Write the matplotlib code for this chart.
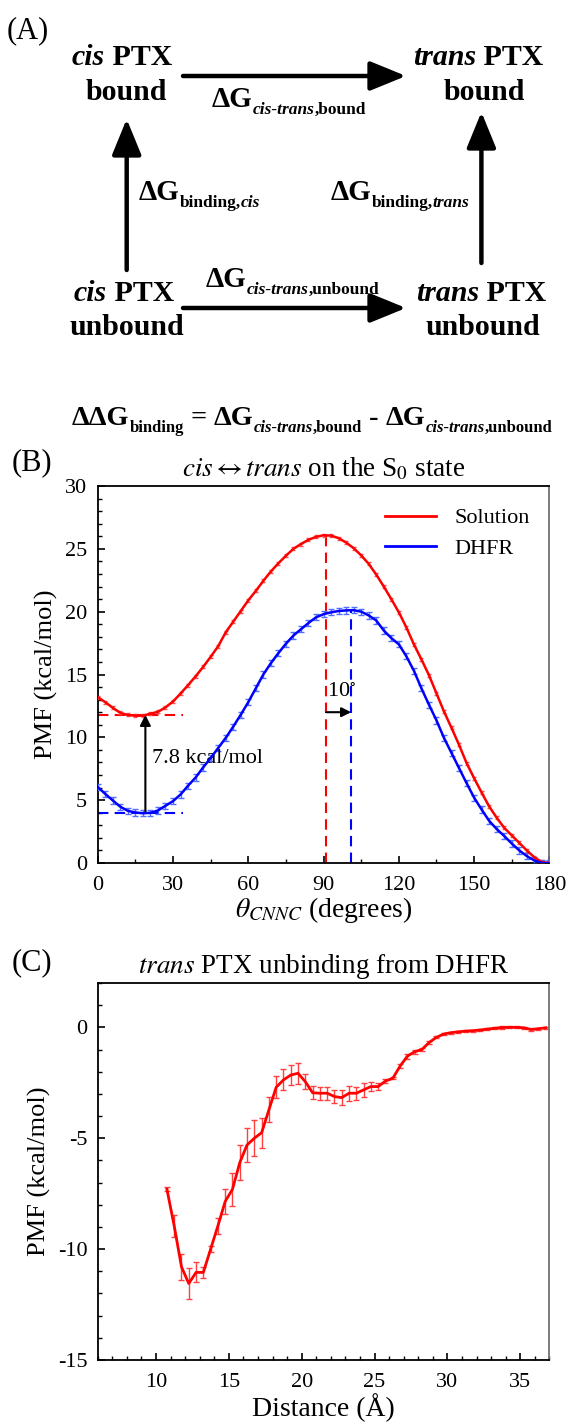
import numpy as np
import matplotlib
matplotlib.use("Agg")
import matplotlib.pyplot as plt
from matplotlib.ticker import MultipleLocator
from matplotlib.lines import Line2D

plt.rcParams['font.family'] = ['Liberation Serif', 'DejaVu Serif']
plt.rcParams['mathtext.fontset'] = 'stix'
plt.rcParams['axes.unicode_minus'] = False

# ---- panel B: cis <-> trans PMF on S0 ----
theta = np.arange(0, 181, 3)
pmf_solution = [13.2, 12.8, 12.35, 11.95, 11.78, 11.72, 11.72, 11.88, 12.03, 12.38,
                12.85, 13.48, 14.15, 14.85, 15.6, 16.4, 17.25, 18.35, 19.2, 20.05,
                20.9, 21.65, 22.45, 23.2, 23.85, 24.45, 25.0, 25.38, 25.72, 25.95,
                26.08, 26.05, 25.85, 25.5, 25.05, 24.48, 23.8, 22.95, 22.0, 21.0,
                19.95, 18.75, 17.4, 16.2, 14.95, 13.5, 12.05, 10.75, 9.4, 7.95,
                6.75, 5.6, 4.5, 3.6, 2.8, 2.2, 1.6, 1.0, 0.45, 0.08, 0.0]
pmf_dhfr = [6.05, 5.5, 4.98, 4.48, 4.15, 4.02, 3.96, 3.99, 4.18, 4.55,
            4.92, 5.45, 6.15, 6.8, 7.6, 8.35, 9.15, 9.95, 10.85, 11.8,
            12.8, 13.9, 15.0, 15.9, 16.7, 17.45, 18.1, 18.6, 19.1, 19.55,
            19.8, 19.95, 20.05, 20.1, 20.12, 20.0, 19.7, 19.3, 18.5, 17.9,
            17.4, 16.45, 15.3, 13.9, 12.6, 11.35, 9.95, 8.75, 7.55, 6.35,
            5.2, 4.25, 3.35, 2.7, 2.15, 1.55, 1.0, 0.55, 0.2, 0.0, 0.0]
err_solution = 0.12
err_dhfr = 0.25
ts_solution = 91      # barrier position, degrees
ts_dhfr = 101
min_solution = 11.8
min_dhfr = 4.0
min_theta = 19
guide_end = 34

# ---- panel C: trans PTX unbinding ----
dist = np.arange(10.75, 37.0, 0.5)
pmf_unbind = [-7.30, -8.95, -10.80, -11.55, -11.05, -11.05, -10.00, -8.95, -7.85, -7.30,
              -6.10, -5.30, -5.00, -4.75, -3.72, -2.70, -2.37, -2.15, -2.07, -2.45,
              -2.95, -2.97, -2.97, -3.12, -3.17, -2.97, -2.97, -2.82, -2.67, -2.67,
              -2.42, -2.30, -1.75, -1.30, -1.10, -1.00, -0.68, -0.45, -0.30, -0.24,
              -0.20, -0.17, -0.15, -0.12, -0.08, -0.04, -0.01, 0.00, 0.00, -0.02,
              -0.10, -0.06, -0.02]
err_unbind = [0.10, 0.50, 0.60, 0.70, 0.45, 0.25, 0.15, 0.35, 0.55, 0.75,
              0.80, 0.75, 0.80, 0.68, 0.56, 0.50, 0.47, 0.44, 0.47, 0.35,
              0.30, 0.30, 0.30, 0.30, 0.33, 0.33, 0.30, 0.30, 0.20, 0.15,
              0.10, 0.05, 0.10, 0.12, 0.10, 0.08, 0.08, 0.05, 0.05, 0.05,
              0.05, 0.05, 0.05, 0.05, 0.05, 0.05, 0.05, 0.05, 0.05, 0.05,
              0.05, 0.05, 0.05]

W, H = 568, 1424
fig = plt.figure(figsize=(W / 100, H / 100), dpi=100)
renderer = fig.canvas.get_renderer()

# ---- (A) thermodynamic cycle, drawn in pixel coordinates ----
axa = fig.add_axes([0, 0, 1, 1])
axa.set_xlim(0, W)
axa.set_ylim(H, 0)
axa.axis('off')

def rich(x, y, pieces, ha='left'):
    # pieces: (text, size, style, drop below baseline in px)
    texts = []
    cx = x
    for s, size, style, dy in pieces:
        t = axa.text(cx, y + dy, s, fontsize=size, fontweight='bold', fontstyle=style,
                     ha='left', va='baseline')
        cx += t.get_window_extent(renderer).width
        texts.append(t)
    if ha == 'center':
        shift = (cx - x) / 2
        for t in texts:
            t.set_x(t.get_position()[0] - shift)

big = 21.5
drop = 7

def dg(kind, tail, dgsize=21, sub=12.5):
    if kind == 'ct':
        return [("ΔG", dgsize, 'normal', 0), ("cis-trans", sub, 'italic', drop),
                ("," + tail, sub, 'normal', drop)]
    return [("ΔG", dgsize, 'normal', 0), ("binding,", sub, 'normal', drop),
            (tail, sub, 'italic', drop)]

rich(122, 65, [("cis", big, 'italic', 0), (" PTX", big, 'normal', 0)], ha='center')
rich(126, 100, [("bound", big, 'normal', 0)], ha='center')
rich(478, 65, [("trans", big, 'italic', 0), (" PTX", big, 'normal', 0)], ha='center')
rich(484, 100, [("bound", big, 'normal', 0)], ha='center')
rich(124, 301, [("cis", big, 'italic', 0), (" PTX", big, 'normal', 0)], ha='center')
rich(127, 335, [("unbound", big, 'normal', 0)], ha='center')
rich(481, 301, [("trans", big, 'italic', 0), (" PTX", big, 'normal', 0)], ha='center')
rich(483, 335, [("unbound", big, 'normal', 0)], ha='center')

rich(212, 107, dg('ct', "bound"))
rich(206, 287, dg('ct', "unbound"))
rich(139, 200, dg('b', "cis"))
rich(331, 200, dg('b', "trans"))
eq, es = 20.3, 12.0
rich(72, 425, [("ΔΔG", eq, 'normal', 0), ("binding", es, 'normal', drop),
               (" = ", eq, 'normal', 0)] + dg('ct', "bound", eq, es)
     + [(" - ", eq, 'normal', 0)] + dg('ct', "unbound", eq, es))

def arrow(x0, y0, x1, y1):
    axa.annotate("", xy=(x1, y1), xytext=(x0, y0),
                 arrowprops=dict(arrowstyle='-|>,head_length=1.1,head_width=0.45',
                                 color='k', lw=3.2, shrinkA=0, shrinkB=0, mutation_scale=20))

arrow(183, 76, 406, 76)
arrow(183, 308, 406, 308)
arrow(126.7, 270, 126.7, 119)
arrow(481.4, 263, 481.4, 112)

fig.text(7 / W, 1 - 31 / H, "(A)", fontsize=22, va='center')
fig.text(12 / W, 1 - 463 / H, "(B)", fontsize=22, va='center')
fig.text(12 / W, 1 - 963 / H, "(C)", fontsize=22, va='center')

def style(ax):
    ax.tick_params(which='both', direction='in', top=False, right=False, labelsize=16)
    ax.tick_params(which='major', length=5, width=1.2)
    ax.tick_params(which='minor', length=3, width=1.0)
    ax.tick_params(axis='x', pad=9.5)
    ax.tick_params(axis='y', pad=7.5)
    for s in ax.spines.values():
        s.set_linewidth(1.3)
    ax.spines['right'].set_color('0.45')

# ---- (B) ----
axb = fig.add_axes([97.7 / W, 1 - 863 / H, 451.7 / W, 377 / H])
axb.errorbar(theta, pmf_solution, yerr=err_solution, color='red', lw=1.8, elinewidth=1.0,
             capsize=1.5, ecolor='#ff5050', zorder=3)
axb.errorbar(theta, pmf_dhfr, yerr=err_dhfr, color='blue', lw=1.8, elinewidth=1.0,
             capsize=2.5, ecolor='#5070ff', zorder=3)
axb.vlines(ts_solution, 0, max(pmf_solution), colors='red', linestyles=(0, (5, 3)), lw=1.5)
axb.vlines(ts_dhfr, 0, max(pmf_dhfr), colors='blue', linestyles=(0, (5, 3)), lw=1.5)
axb.hlines(min_solution, 0, guide_end, colors='red', linestyles=(0, (5, 3)), lw=1.5)
axb.hlines(min_dhfr, 0, guide_end, colors='blue', linestyles=(0, (5, 3)), lw=1.5)
axb.annotate("", xy=(min_theta, min_solution), xytext=(min_theta, min_dhfr),
             arrowprops=dict(arrowstyle='-|>', color='k', lw=1.5, shrinkA=0, shrinkB=0,
                             mutation_scale=16))
axb.text(min_theta + 2.5, (min_solution + min_dhfr) / 2 + 0.4, "7.8 kcal/mol", fontsize=16,
         va='center')
axb.annotate("", xy=(ts_dhfr, 12.0), xytext=(ts_solution, 12.0),
             arrowprops=dict(arrowstyle='-|>', color='k', lw=1.5, shrinkA=0, shrinkB=0,
                             mutation_scale=14))
axb.text(ts_solution + 0.3, 13.6, r"10$^{\circ}$", fontsize=16, va='center')
axb.set_xlim(0, 180)
axb.set_ylim(0, 30)
axb.xaxis.set_major_locator(MultipleLocator(30))
axb.xaxis.set_minor_locator(MultipleLocator(15))
axb.yaxis.set_major_locator(MultipleLocator(5))
axb.yaxis.set_minor_locator(MultipleLocator(1))
style(axb)
axb.set_title(r"$\it{cis}\leftrightarrow\it{trans}$ on the S$_0$ state", fontsize=19.5, pad=7)
axb.set_xlabel(r"$\theta_{CNNC}$ (degrees)", fontsize=20)
axb.set_ylabel("PMF (kcal/mol)", fontsize=19)
axb.xaxis.set_label_coords(0.5, -0.085)
axb.yaxis.set_label_coords(-0.088, 0.5)
handles = [Line2D([], [], color='red', lw=2), Line2D([], [], color='blue', lw=2)]
axb.legend(handles, ['Solution', 'DHFR'], loc='upper right', frameon=False, fontsize=16,
           handlelength=2.3, bbox_to_anchor=(1.0, 0.995), labelspacing=0.45)

# ---- (C) ----
axc = fig.add_axes([97.7 / W, 1 - 1360 / H, 451.7 / W, 377 / H])
axc.errorbar(dist, pmf_unbind, yerr=err_unbind, color='red', lw=2.0, elinewidth=1.0,
             capsize=2.5, ecolor='#ff4040')
axc.set_xlim(6, 37)
axc.set_ylim(-15, 2)
axc.xaxis.set_major_locator(MultipleLocator(5))
axc.xaxis.set_minor_locator(MultipleLocator(1))
axc.yaxis.set_major_locator(MultipleLocator(5))
axc.yaxis.set_minor_locator(MultipleLocator(1))
style(axc)
axc.set_title(r"$\it{trans}$ PTX unbinding from DHFR", fontsize=19.5, pad=7)
axc.set_xlabel("Distance (Å)", fontsize=20)
axc.set_ylabel("PMF (kcal/mol)", fontsize=19)
axc.xaxis.set_label_coords(0.5, -0.088)
axc.yaxis.set_label_coords(-0.103, 0.5)

fig.savefig("out.png", dpi=100)
